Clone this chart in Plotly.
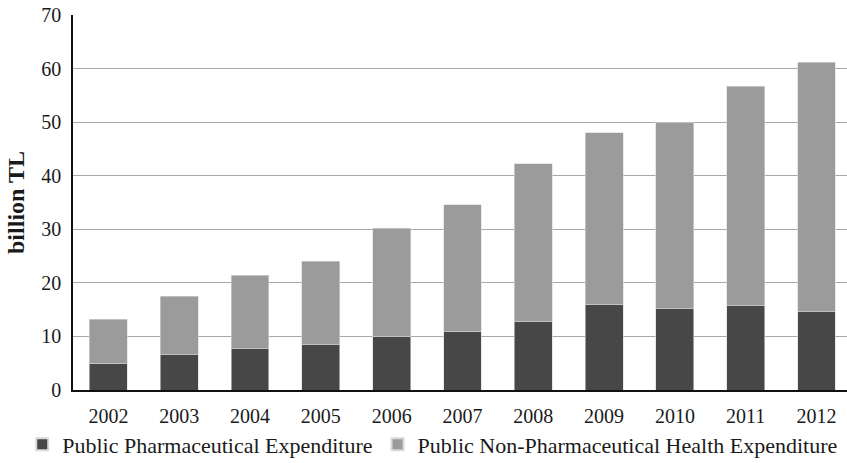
import plotly.graph_objects as go

years = ["2002", "2003", "2004", "2005", "2006", "2007", "2008", "2009", "2010", "2011", "2012"]
pharma = [5.0, 6.6, 7.8, 8.5, 10.0, 11.0, 12.7, 16.0, 15.2, 15.7, 14.6]
non_pharma = [8.2, 10.9, 13.6, 15.5, 20.2, 23.6, 29.5, 32.0, 34.8, 41.0, 46.6]
y_ticks = [0, 10, 20, 30, 40, 50, 60, 70]

FONT = "Liberation Serif"

fig = go.Figure()
fig.add_trace(go.Bar(
    x=years, y=pharma, name="Public Pharmaceutical Expenditure",
    marker=dict(color="#474747", line=dict(color="#d9d9d9", width=0.6)),
))
fig.add_trace(go.Bar(
    x=years, y=non_pharma, name="Public Non-Pharmaceutical Health Expenditure",
    marker=dict(color="#9b9b9b", line=dict(color="#d9d9d9", width=0.6)),
))

fig.update_layout(
    barmode="stack",
    bargap=0.465,
    width=847, height=463,
    margin=dict(l=73, r=0, t=15, b=73, autoexpand=False),
    paper_bgcolor="white", plot_bgcolor="white",
    font=dict(family=FONT, size=20, color="#1a1a1a"),
    showlegend=True,
    legend=dict(
        orientation="h", x=-0.0656, xanchor="left", y=-0.145, yanchor="middle",
        font=dict(family=FONT, size=22, color="#1a1a1a"),
        itemsizing="constant", traceorder="normal",
    ),
    xaxis=dict(
        type="category", range=[-0.5, 10.43],
        showline=True, linecolor="#111111", linewidth=1.5,
        ticks="", showgrid=False, ticklabelstandoff=7,
        tickfont=dict(family=FONT, size=20),
    ),
    yaxis=dict(
        range=[0, 70], tickvals=y_ticks,
        showline=True, linecolor="#111111", linewidth=1.5,
        showgrid=True, gridcolor="#a8a8a8", gridwidth=1,
        ticks="", zeroline=False, ticklabelstandoff=6,
        tickfont=dict(family=FONT, size=20),
        title=dict(text="<b>billion TL</b>", font=dict(family=FONT, size=24), standoff=10),
    ),
)

fig.write_html("out.html")
